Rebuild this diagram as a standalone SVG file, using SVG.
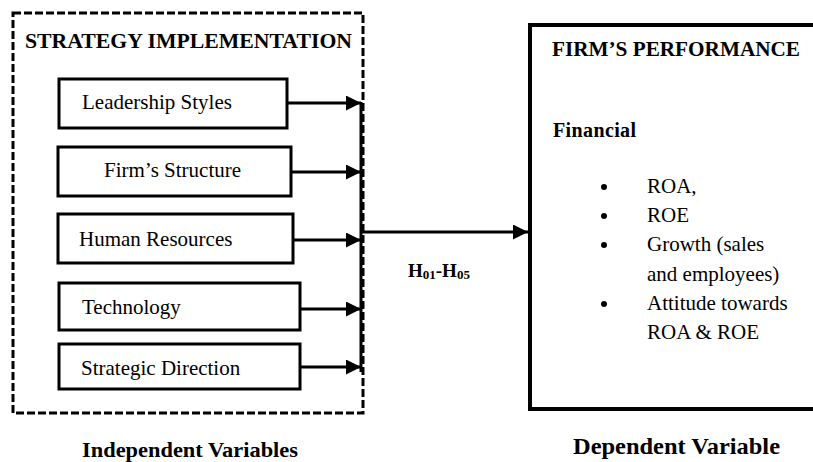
<svg xmlns="http://www.w3.org/2000/svg" width="813" height="462" viewBox="0 0 813 462">
<defs>
<style>
.box{fill:#fff;stroke:#000;stroke-width:3}
.bold{font-weight:bold}
.conn{stroke:#000;stroke-width:3;fill:none}
</style>
<marker id="ah" viewBox="0 0 10 10" refX="10" refY="5" markerWidth="6" markerHeight="5" markerUnits="strokeWidth" orient="auto">
<path d="M0,0 L10,5 L0,10 z" fill="#000"/>
</marker>
</defs>
<rect width="813" height="462" fill="#fff"/>
<g font-family="Liberation Serif" fill="#000">
<g id="strategy-implementation">
<rect x="13" y="13" width="350" height="400" fill="none" stroke="#000" stroke-width="3" stroke-dasharray="8,3"/>
<text class="bold" x="25" y="48" font-size="20" textLength="327" lengthAdjust="spacingAndGlyphs">STRATEGY IMPLEMENTATION</text>
</g>
<g id="leadership-styles" font-size="21">
<rect class="box" x="59" y="79" width="228" height="49"/>
<text x="82" y="109">Leadership Styles</text>
</g>
<g id="firms-structure" font-size="21">
<rect class="box" x="58" y="147" width="233" height="49"/>
<text x="104" y="177">Firm’s Structure</text>
</g>
<g id="human-resources" font-size="21">
<rect class="box" x="58" y="214" width="235" height="49"/>
<text x="79" y="246">Human Resources</text>
</g>
<g id="technology" font-size="21">
<rect class="box" x="59" y="283" width="241" height="47"/>
<text x="82" y="314">Technology</text>
</g>
<g id="strategic-direction" font-size="21">
<rect class="box" x="59" y="344" width="241" height="45"/>
<text x="81" y="375">Strategic Direction</text>
</g>
<g id="firms-performance">
<rect x="530" y="25" width="300" height="384" fill="#fff" stroke="#000" stroke-width="4"/>
<text class="bold" x="552" y="56" font-size="20" textLength="248" lengthAdjust="spacingAndGlyphs">FIRM’S PERFORMANCE</text>
<text class="bold" x="553" y="137" font-size="20" textLength="83" lengthAdjust="spacing">Financial</text>
<circle cx="604" cy="187" r="3"/>
<circle cx="604" cy="216" r="3"/>
<circle cx="604" cy="245" r="3"/>
<circle cx="604" cy="304" r="3"/>
<g font-size="21">
<text x="647" y="193">ROA,</text>
<text x="647" y="222">ROE</text>
<text x="647" y="251">Growth (sales</text>
<text x="647" y="281">and employees)</text>
<text x="647" y="310">Attitude towards</text>
<text x="647" y="339">ROA &amp; ROE</text>
</g>
</g>
<g id="connectors">
<line class="conn" x1="287" y1="103" x2="361" y2="103" marker-end="url(#ah)"/>
<line class="conn" x1="291" y1="172" x2="361" y2="172" marker-end="url(#ah)"/>
<line class="conn" x1="293" y1="240" x2="361" y2="240" marker-end="url(#ah)"/>
<line class="conn" x1="300" y1="309" x2="361" y2="309" marker-end="url(#ah)"/>
<line class="conn" x1="300" y1="367" x2="361" y2="367" marker-end="url(#ah)"/>
<line class="conn" x1="361" y1="102" x2="361" y2="372"/>
<line class="conn" x1="361" y1="232" x2="528" y2="232" marker-end="url(#ah)"/>
</g>
<text class="bold" x="408" y="277" font-size="19">H<tspan font-size="13" dy="2">01</tspan><tspan dy="-2">-H</tspan><tspan font-size="13" dy="2">05</tspan></text>
<text class="bold" x="82" y="457" font-size="22" textLength="216" lengthAdjust="spacingAndGlyphs">Independent Variables</text>
<text class="bold" x="573" y="454" font-size="23" textLength="207" lengthAdjust="spacingAndGlyphs">Dependent Variable</text>
</g>
</svg>
